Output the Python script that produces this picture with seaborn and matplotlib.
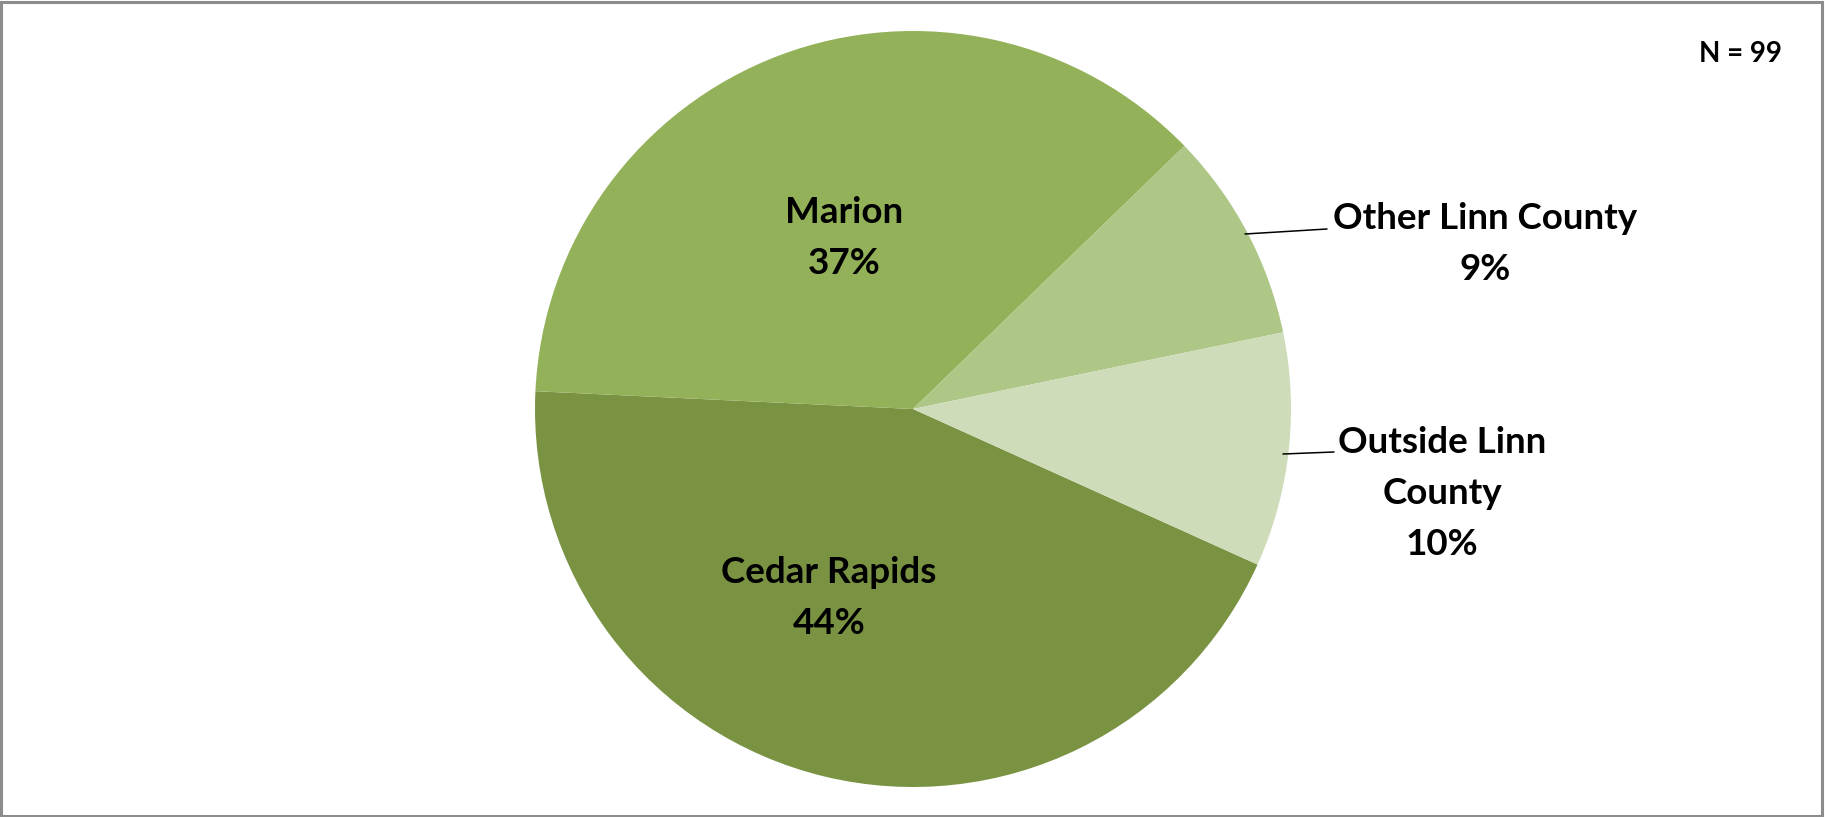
import matplotlib
matplotlib.use("Agg")
import matplotlib.pyplot as plt
from matplotlib.patches import Rectangle
import seaborn as sns

# Residence of respondents (percent of N = 99)
categories = ["Cedar Rapids", "Marion", "Other Linn County", "Outside Linn County"]
label_lines = [["Cedar Rapids"], ["Marion"], ["Other Linn County"], ["Outside Linn", "County"]]
percents = [44, 37, 9, 10]
sample_note = "N = 99"

colors = ["#7A9343", "#93B158", "#AEC787", "#CFDCBA"]

sns.set_theme(style="white")
plt.rcParams["font.family"] = ["Lato", "DejaVu Sans"]

W, H = 1825, 817
fig = plt.figure(figsize=(W / 100, H / 100), dpi=100)
fig.patch.set_facecolor("white")

# pie placement in pixels
cx, cy, r = 913, 409, 378
ax = fig.add_axes([(cx - r) / W, (H - cy - r) / H, 2 * r / W, 2 * r / H])
ax.axis("off")

ax.pie(percents, colors=colors, startangle=-24.3, counterclock=False,
       radius=1.0, wedgeprops=dict(linewidth=0), center=(0, 0), frame=False)
ax.set_xlim(-1, 1)
ax.set_ylim(-1, 1)
ax.set_aspect("equal")


def px(x, y):
    return (x - cx) / r, (cy - y) / r


FS = 26.5
PITCH = 51  # pixel distance between label baselines


def label(lines, pct, x, first_baseline):
    rows = lines + [f"{pct}%"]
    for i, row in enumerate(rows):
        ax.text(*px(x, first_baseline + i * PITCH), row, ha="center", va="baseline",
                fontsize=FS, fontweight="bold", color="black", clip_on=False)


# labels inside the two large slices, outside for the two small ones
anchors = [(829, 583), (844, 223), (1485, 229), (1442, 453)]
for lines, pct, (x, yb) in zip(label_lines, percents, anchors):
    label(lines, pct, x, yb)

# leader lines for the outside labels
for (x0, y0), (x1, y1) in [((1245, 234), (1327, 229)), ((1283, 454), (1334, 452))]:
    a, b = px(x0, y0)
    c, d = px(x1, y1)
    ax.plot([a, c], [b, d], color="black", lw=1.1, clip_on=False)

fig.text(1740 / W, 1 - 62 / H, sample_note, ha="center", va="baseline",
         fontsize=20, fontweight="bold", color="black")

# chart frame
fig.patches.append(Rectangle((0.0008, 0.0015), 0.9975, 0.996, transform=fig.transFigure,
                             fill=False, edgecolor="#8C8C8C", linewidth=2.2))

fig.savefig("out.png", dpi=100, facecolor="white")
